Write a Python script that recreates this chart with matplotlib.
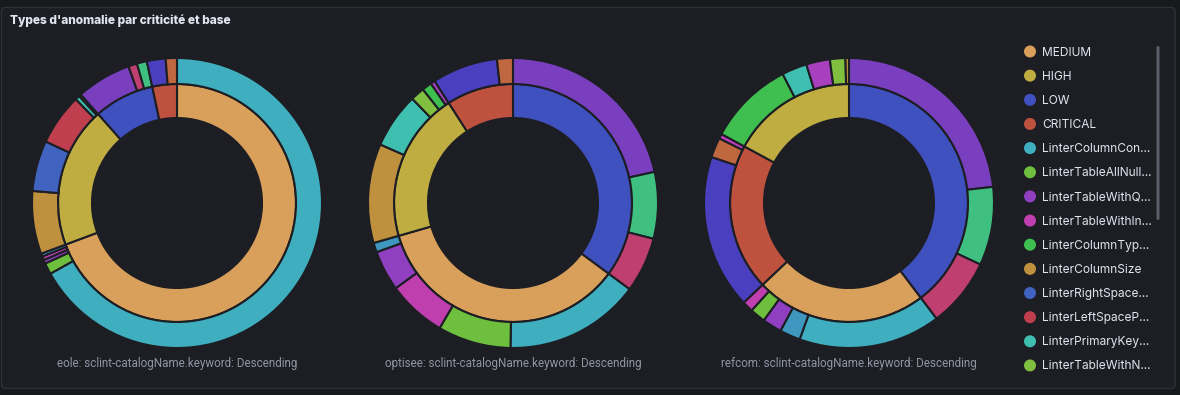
import matplotlib
matplotlib.use("Agg")
import matplotlib.pyplot as plt
from matplotlib.patches import FancyBboxPatch, Circle

W, H = 1180, 395
BG_OUT = "#18191d"
BG = "#1d1e24"
BORDER = "#2f3138"
TXT = "#dfe5ef"
SUB = "#8e96a4"

title = "Types d'anomalie par criticité et base"

# criticality (inner ring) colours
crit_colors = {"MEDIUM": "#d9a05c", "HIGH": "#bfad41", "LOW": "#3f51bf", "CRITICAL": "#bf513f"}

# anomaly types (outer ring) and colours
type_colors = {
    "LinterColumnCon": "#3fafbf",
    "LinterTableAllNull": "#6fbf3f",
    "LinterTableWithQ": "#8f3fbf",
    "LinterTableWithIn": "#bf3faf",
    "LinterColumnTyp": "#3fbf4f",
    "LinterColumnSize": "#bf913f",
    "LinterRightSpace": "#3f63bf",
    "LinterLeftSpaceP": "#bf3f4f",
    "LinterPrimaryKey": "#3fbfb0",
    "LinterTableWithN": "#80bf3f",
    "LinterLow1": "#7a3fbf",
    "LinterLow2": "#3fbf80",
    "LinterLow3": "#bf3f70",
    "LinterCrit1": "#4a3fbf",
    "LinterCrit2": "#bf673f",
    "LinterCrit3": "#bf3fbf",
    "LinterMedium5": "#3f97bf",
    "LinterHigh7": "#a83fbf",
}

legend_labels = ["MEDIUM", "HIGH", "LOW", "CRITICAL",
                 "LinterColumnCon...", "LinterTableAllNull...", "LinterTableWithQ...",
                 "LinterTableWithIn...", "LinterColumnTyp...", "LinterColumnSize",
                 "LinterRightSpace...", "LinterLeftSpaceP...", "LinterPrimaryKey...",
                 "LinterTableWithN..."]
legend_keys = ["MEDIUM", "HIGH", "LOW", "CRITICAL",
               "LinterColumnCon", "LinterTableAllNull", "LinterTableWithQ",
               "LinterTableWithIn", "LinterColumnTyp", "LinterColumnSize",
               "LinterRightSpace", "LinterLeftSpaceP", "LinterPrimaryKey",
               "LinterTableWithN"]

bases = ["eole", "optisee", "refcom"]

# per base: criticality order (descending size) and anomaly shares (degrees of circle)
eole_crit = ["MEDIUM", "HIGH", "LOW", "CRITICAL"]
eole_types = [
    ["LinterColumnCon", "LinterTableAllNull", "LinterTableWithQ", "LinterTableWithIn", "LinterMedium5"],
    ["LinterColumnSize", "LinterRightSpace", "LinterLeftSpaceP", "LinterPrimaryKey", "LinterColumnTyp"],
    ["LinterLow1", "LinterLow3", "LinterLow2"],
    ["LinterCrit1", "LinterCrit2"],
]
eole_values = [
    [240.5, 4.5, 1.5, 1.5, 1.2],
    [25.2, 20.3, 20.6, 1.8, 0.9],
    [22.0, 3.5, 4.0],
    [7.5, 4.5],
]

optisee_crit = ["LOW", "MEDIUM", "HIGH", "CRITICAL"]
optisee_types = [
    ["LinterLow1", "LinterLow2", "LinterLow3"],
    ["LinterColumnCon", "LinterTableAllNull", "LinterTableWithIn", "LinterTableWithQ", "LinterMedium5"],
    ["LinterColumnSize", "LinterPrimaryKey", "LinterTableWithN", "LinterColumnTyp", "LinterHigh7"],
    ["LinterCrit1", "LinterCrit2"],
]
optisee_values = [
    [77.6, 26.7, 22.2],
    [54.5, 29.4, 23.6, 16.2, 3.8],
    [39.8, 22.2, 5.6, 3.9, 1.8],
    [26.3, 6.4],
]

refcom_crit = ["LOW", "MEDIUM", "CRITICAL", "HIGH"]
refcom_types = [
    ["LinterLow1", "LinterLow2", "LinterLow3"],
    ["LinterColumnCon", "LinterMedium5", "LinterTableWithQ", "LinterTableAllNull", "LinterTableWithIn"],
    ["LinterCrit1", "LinterCrit2", "LinterCrit3"],
    ["LinterColumnTyp", "LinterPrimaryKey", "LinterHigh7", "LinterTableWithN", "LinterColumnSize"],
]
refcom_values = [
    [83.6, 31.5, 27.8],
    [57.0, 8.3, 7.8, 6.2, 4.4],
    [61.9, 8.0, 1.9],
    [34.4, 10.1, 9.5, 6.2, 1.4],
]

charts = [
    (eole_crit, eole_types, eole_values),
    (optisee_crit, optisee_types, optisee_values),
    (refcom_crit, refcom_types, refcom_values),
]

fig = plt.figure(figsize=(W / 100, H / 100), dpi=100, facecolor=BG_OUT)
ax = fig.add_axes([0, 0, 1, 1])
ax.set_facecolor(BG_OUT)


def Y(y):
    return H - y


# panel
ax.add_patch(FancyBboxPatch((1.5, Y(388.5)), 1173.5, 381, boxstyle="round,pad=0,rounding_size=4",
                            facecolor=BG, edgecolor=BORDER, linewidth=1.0, zorder=0))

ax.text(10, Y(21), title, color=TXT, fontsize=8.6, fontweight="heavy", family="Inter",
        va="center", ha="left")

centers_x = [177, 513, 849]
cy = 203
R_OUT, R_MID, R_IN = 145, 119, 85
edge = dict(edgecolor=BG, linewidth=1.5)

for (crit, types, vals), cx, base in zip(charts, centers_x, bases):
    inner_vals = [sum(v) for v in vals]
    inner_cols = [crit_colors[c] for c in crit]
    outer_vals = [x for v in vals for x in v]
    outer_cols = [type_colors[t] for ts in types for t in ts]
    ax.pie(inner_vals, colors=inner_cols, radius=R_MID, center=(cx, Y(cy)), startangle=90,
           counterclock=False, wedgeprops=dict(width=R_MID - R_IN, **edge), frame=True)
    ax.pie(outer_vals, colors=outer_cols, radius=R_OUT, center=(cx, Y(cy)), startangle=90,
           counterclock=False, wedgeprops=dict(width=R_OUT - R_MID, **edge), frame=True)
    ax.text(cx, Y(363), f"{base}: sclint-catalogName.keyword: Descending", color=SUB,
            fontsize=8.4, family="Roboto", ha="center", va="center")

# legend
for i, (lab, key) in enumerate(zip(legend_labels, legend_keys)):
    y = 51.5 + i * 24.15
    col = crit_colors.get(key, type_colors.get(key))
    ax.add_patch(Circle((1030, Y(y)), 6, facecolor=col, edgecolor="none", zorder=3))
    ax.text(1042, Y(y + 1), lab, color=TXT, fontsize=8.6, family="Inter", ha="left", va="center")

# scrollbar
ax.add_patch(FancyBboxPatch((1156.5, Y(220)), 3, 174, boxstyle="round,pad=0,rounding_size=1.5",
                            facecolor="#5b5e68", edgecolor="none", zorder=3))

ax.set_xlim(0, W)
ax.set_ylim(0, H)
ax.set_aspect("auto")
ax.axis("off")
fig.savefig("out.png", dpi=100, facecolor=BG_OUT)
